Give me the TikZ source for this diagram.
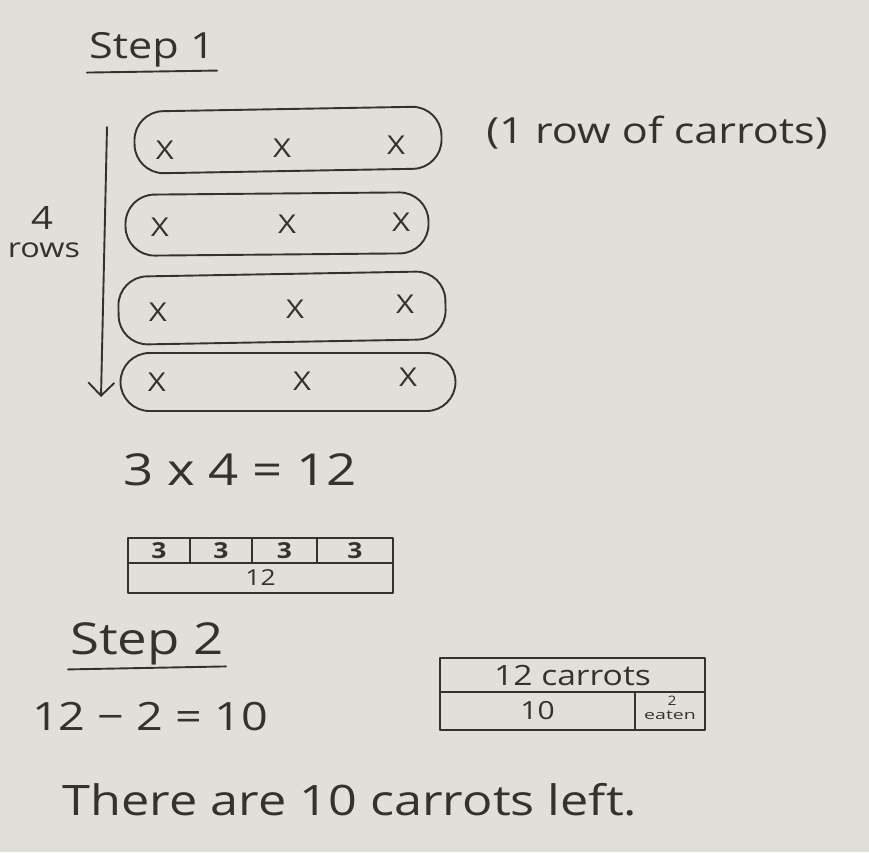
\documentclass[tikz,border=0pt]{standalone}
\usepackage{fontspec}
\setmainfont{Open Sans}[FakeStretch=1.2]
\usetikzlibrary{arrows.meta,calc}
\definecolor{paper}{RGB}{226,223,216}
\definecolor{ink}{RGB}{52,50,48}
\newcommand{\fs}[1]{\fontsize{#1}{#1}\selectfont}
\begin{document}
\begin{tikzpicture}[x=1pt,y=-1pt,
  hand/.style={text=ink, inner sep=0pt},
  pen/.style={draw=ink, line width=1.9pt, line cap=round, line join=round},
  rowoval/.style={pen, rounded corners=29pt, inner sep=0pt},
  cross/.style={hand, font=\fs{26}},
  cellone/.style={pen, line width=2.4pt, inner sep=0pt, minimum height=25pt, font=\fs{22}\bfseries, text=ink},
  celltwo/.style={pen, line width=2.4pt, inner sep=0pt, font=\fs{26}, text=ink}
]
\fill[paper] (0,0) rectangle (869,852);
\useasboundingbox (0,0) rectangle (869,852);

% Step 1
\node[hand, font=\fs{36}] (step1) at (152,50) {Step 1};
\draw[pen] ($(step1.south west)+(-2,5)$) -- ($(step1.south east)+(2,3)$);

% arrow and label
\coordinate (atop) at (107,127);
\coordinate (abot) at (101,397);
\draw[pen, -{Straight Barb[length=13pt,width=26pt,line width=1.9pt]}] (atop) -- (abot);
\node[hand, font=\fs{32}] (four) at (42,218) {4};
\node[hand, font=\fs{27}] (rows) at (44,250) {rows};

% row ovals
\node[rowoval, minimum width=307pt, minimum height=62pt, rotate=1] (r1) at (288,140) {};
\node[rowoval, minimum width=303pt, minimum height=61pt, rotate=0.5] (r2) at (277,224) {};
\node[rowoval, minimum width=327pt, minimum height=68pt, rotate=1] (r3) at (282,308) {};
\node[rowoval, minimum width=335pt, minimum height=58pt, rotate=0] (r4) at (288,382) {};

\node[cross] (x11) at (165,150) {X};
\node[cross] (x12) at (282,148) {X};
\node[cross] (x13) at (396,145) {X};
\node[cross] (x21) at (160,227) {X};
\node[cross] (x22) at (287,224) {X};
\node[cross] (x23) at (401,222) {X};
\node[cross] (x31) at (158,312) {X};
\node[cross] (x32) at (295,309) {X};
\node[cross] (x33) at (405,304) {X};
\node[cross] (x41) at (157,382) {X};
\node[cross] (x42) at (302,381) {X};
\node[cross] (x43) at (408,377) {X};

\node[hand, font=\fs{36}] (rowlabel) at (657,133) {(1 row of carrots)};

% 3 x 4 = 12
\node[hand, font=\fs{44}] (mult) at (240,470) {3 x 4 = 12};

% bar model 1
\node[cellone, minimum width=62pt] (c1) at (159,550.5) {3};
\node[cellone, minimum width=62pt] (c2) at (221,550.5) {3};
\node[cellone, minimum width=65pt] (c3) at (284.5,550.5) {3};
\node[cellone, minimum width=76pt] (c4) at (355,550.5) {3};
\node[cellone, minimum width=265pt, minimum height=30pt, font=\fs{22}] (tot1) at (260.5,578) {12};

% Step 2
\node[hand, font=\fs{44}] (step2) at (147,644) {Step 2};
\draw[pen] ($(step2.south west)+(-2,4)$) -- ($(step2.south east)+(2,1)$);

\node[hand, font=\fs{39}] (sub) at (150,717) {12 − 2 = 10};

% bar model 2
\node[celltwo, minimum width=265pt, minimum height=34pt, font=\fs{28}] (top2) at (572.5,675) {12 carrots};
\node[celltwo, minimum width=195pt, minimum height=38pt, font=\fs{25}] (ten) at (537.5,711) {10};
\node[celltwo, minimum width=70pt, minimum height=38pt] (eaten) at (670,711) {};
\node[hand, font=\fs{13}] (two) at (672,701) {2};
\node[hand, font=\fs{13}] (eatenlbl) at (670,715) {\scalebox{1.25}[1]{eaten}};

% conclusion
\node[hand, font=\fs{42}] (concl) at (350,800) {There are 10 carrots left.};
\end{tikzpicture}
\end{document}
